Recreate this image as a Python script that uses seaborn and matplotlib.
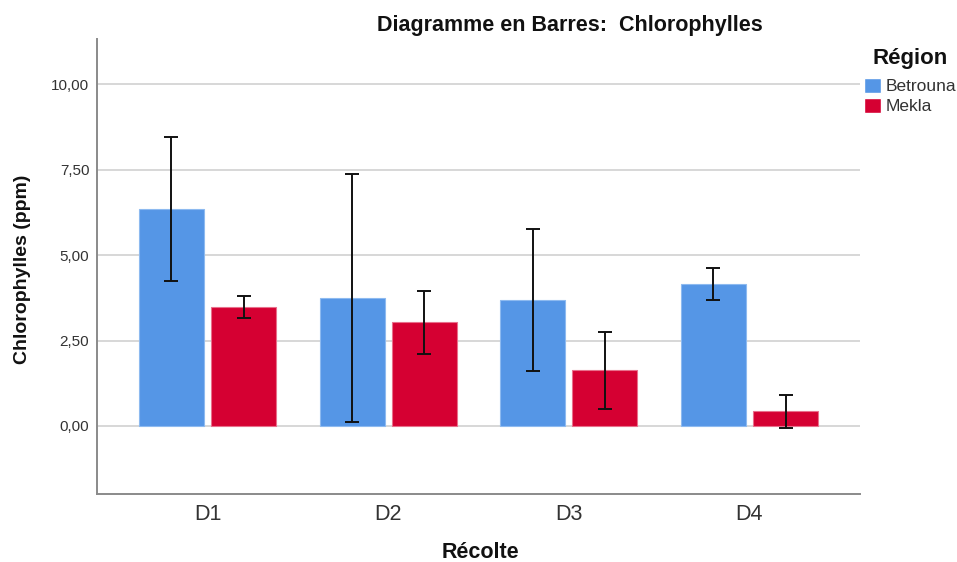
import matplotlib
matplotlib.use('Agg')
import matplotlib.pyplot as plt
import seaborn as sns
import pandas as pd

# values
recoltes = ['D1', 'D2', 'D3', 'D4']
regions = ['Betrouna', 'Mekla']
betrouna_mean = [6.35, 3.74, 3.69, 4.16]
mekla_mean = [3.48, 3.03, 1.63, 0.43]
betrouna_err = [2.11, 3.63, 2.09, 0.47]
mekla_err = [0.32, 0.93, 1.13, 0.48]
y_ticks = [0, 2.5, 5, 7.5, 10]
y_tick_labels = ['0,00', '2,50', '5,00', '7,50', '10,00']

df = pd.DataFrame({
    'Récolte': recoltes * 2,
    'Région': [regions[0]] * 4 + [regions[1]] * 4,
    'Chlorophylles': betrouna_mean + mekla_mean,
})

sns.set_style('white')
plt.rcParams['font.family'] = ['Liberation Sans', 'DejaVu Sans']

fig = plt.figure(figsize=(9.57, 5.62), dpi=100)
ax = fig.add_axes([0.101, 0.1205, 0.798, 0.8095])

sns.barplot(
    data=df,
    x='Récolte',
    y='Chlorophylles',
    hue='Région',
    hue_order=regions,
    palette=['#5596E6', '#D50032'],
    saturation=1,
    width=0.8,
    gap=0.1,
    errorbar=None,
    ax=ax,
)

# error bars on top of each bar
edge_colors = ['#8DBAF0', '#E8708C']
for container, errs, ec in zip(ax.containers, [betrouna_err, mekla_err], edge_colors):
    xs = [b.get_x() + b.get_width() / 2 for b in container]
    ys = [b.get_height() for b in container]
    for b in container:
        b.set_edgecolor(ec)
        b.set_linewidth(0.8)
    ax.errorbar(xs, ys, yerr=errs, fmt='none', ecolor='#111111',
                elinewidth=1.4, capsize=5.2, capthick=1.4, zorder=5)

ax.set_ylim(-2.0, 11.32)
ax.set_xlim(-0.614, 3.614)
ax.set_yticks(y_ticks)
ax.set_yticklabels(y_tick_labels)
ax.yaxis.grid(True, color='#D4D4D4', linewidth=1.3)
ax.set_axisbelow(True)
ax.tick_params(axis='y', length=0, pad=5.3, labelsize=11, labelcolor='#333333')
ax.tick_params(axis='x', length=0, pad=7, labelsize=15.5, labelcolor='#333333')
for side in ['top', 'right']:
    ax.spines[side].set_visible(False)
for side in ['left', 'bottom']:
    ax.spines[side].set_color('#8A8A8A')
    ax.spines[side].set_linewidth(1.4)
ax.set_xlabel('')
ax.set_ylabel('')

fig.text(570 / 957, 1 - 31 / 562, 'Diagramme en Barres:  Chlorophylles',
         ha='center', va='baseline', fontsize=15.5, fontweight='bold', color='#111111')
fig.text(0.024, 1 - 269 / 562, 'Chlorophylles (ppm)', rotation=90,
         ha='center', va='center', fontsize=14, fontweight='bold', color='#111111')
fig.text(480 / 957, 1 - 558 / 562, 'Récolte',
         ha='center', va='baseline', fontsize=15.5, fontweight='bold', color='#111111')

# legend: title drawn as figure text, entries from seaborn's handles
fig.text(910 / 957, 1 - 64 / 562, 'Région',
         ha='center', va='baseline', fontsize=16, fontweight='bold', color='#111111')
sns.move_legend(
    ax, loc='upper left', bbox_to_anchor=(1.005, 0.915),
    title=None, frameon=False, fontsize=12.5,
    handlelength=0.96, handleheight=0.95, handletextpad=0.3,
    labelspacing=0.2, borderaxespad=0, borderpad=0,
)
for t in ax.get_legend().get_texts():
    t.set_color('#333333')

fig.savefig('out.png', dpi=100)
